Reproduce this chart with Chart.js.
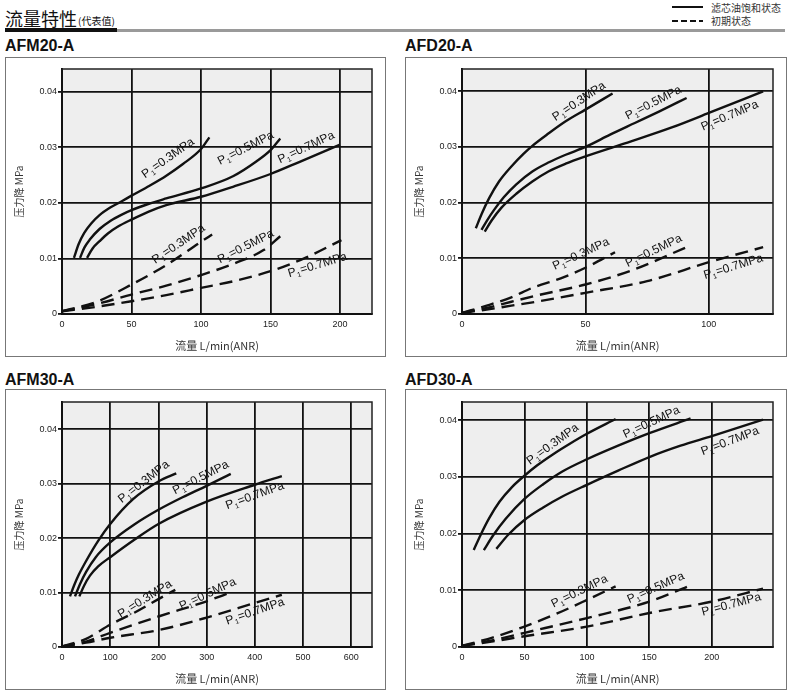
<!DOCTYPE html>
<html>
<head>
<meta charset="utf-8">
<script src="https://cdn.jsdelivr.net/npm/chart.js@4.4.0/dist/chart.umd.min.js"></script>
<style>
  body { margin: 0; background: #fff; width: 790px; height: 699px; position: relative; overflow: hidden;
         font-family: "Liberation Sans", Arial, sans-serif; }
  .abs { position: absolute; }
  .cjk { font-family: "Noto Sans CJK SC", sans-serif; }
  .frame { position: absolute; border: 1.5px solid #777; box-sizing: border-box; pointer-events: none; }
  .title { position: absolute; font-weight: bold; font-size: 16px; line-height: 16px; color: #111; }
  canvas { position: absolute; }
</style>
</head>
<body>

<div class="abs cjk" style="left:5px;top:9px;font-size:18px;line-height:18px;color:#111;">流量特性</div>
<div class="abs cjk" style="left:78px;top:16px;font-size:10px;line-height:10px;color:#111;">(代表值)</div>
<div class="abs" style="left:5px;top:28px;width:112px;height:4px;background:#111;"></div>
<div class="abs" style="left:117px;top:29px;width:668px;height:3px;background:#9a9a9a;"></div>

<div class="abs" style="left:672px;top:6px;width:31px;height:2px;background:#111;"></div>
<div class="abs" style="left:672px;top:20px;width:31px;height:2px;background:repeating-linear-gradient(90deg,#111 0 6px,transparent 6px 9px);"></div>
<div class="abs cjk" style="left:711px;top:2px;font-size:10px;line-height:11px;color:#333;">滤芯油饱和状态</div>
<div class="abs cjk" style="left:711px;top:15px;font-size:10px;line-height:11px;color:#333;">初期状态</div>

<div class="title" style="left:5px;top:38px;">AFM20-A</div>
<div class="title" style="left:405px;top:38px;">AFD20-A</div>
<div class="title" style="left:5px;top:372px;">AFM30-A</div>
<div class="title" style="left:405px;top:372px;">AFD30-A</div>

<canvas id="c1" width="380" height="299" style="left:5px;top:57px;"></canvas>
<canvas id="c2" width="381" height="299" style="left:405px;top:57px;"></canvas>
<canvas id="c3" width="380" height="300" style="left:5px;top:389px;"></canvas>
<canvas id="c4" width="381" height="300" style="left:405px;top:389px;"></canvas>
<div class="frame" style="left:5px;top:57px;width:381px;height:300px;"></div>
<div class="frame" style="left:405px;top:57px;width:382px;height:300px;"></div>
<div class="frame" style="left:5px;top:389px;width:381px;height:301px;"></div>
<div class="frame" style="left:405px;top:389px;width:382px;height:301px;"></div>

<script>
// Pressure drop vs flow, [flow L/min, drop MPa]
const afm20Solid03 = [[8.6,0.0101],[12,0.0126],[16,0.0146],[21,0.0163],[27,0.0178],[35,0.0192],[43,0.0203],[50,0.0213],[63,0.0231],[75,0.0249],[87,0.027],[100,0.0297],[106,0.0318]];
const afm20Solid05 = [[13,0.0101],[16,0.0119],[20,0.0134],[27,0.0153],[35,0.0168],[43,0.0179],[50,0.0187],[62,0.0198],[75,0.0208],[100,0.0226],[123,0.0248],[140,0.0275],[150,0.0295],[157,0.0316]];
const afm20Solid07 = [[18,0.0101],[22,0.0118],[27,0.0131],[33,0.0145],[40,0.0157],[50,0.017],[62,0.0184],[75,0.0196],[100,0.0211],[123,0.0229],[150,0.0252],[171,0.0274],[200,0.0305]];
const afm20Dash03 = [[0,0.0005],[25,0.0022],[50,0.0053],[75,0.0088],[100,0.013],[108,0.0143]];
const afm20Dash05 = [[0,0.0005],[25,0.0018],[50,0.0035],[75,0.0051],[100,0.007],[125,0.0092],[145,0.0115],[157,0.014]];
const afm20Dash07 = [[0,0.0005],[25,0.0013],[50,0.0023],[75,0.0034],[100,0.0047],[125,0.006],[150,0.0077],[175,0.0101],[201,0.0133]];

const afd20Solid03 = [[5.6,0.0154],[8,0.018],[11,0.0208],[15,0.0238],[20,0.0265],[25,0.0288],[28.5,0.0302],[35,0.0324],[42,0.0346],[50,0.0367],[61,0.0396]];
const afd20Solid05 = [[7.9,0.0151],[10,0.0167],[13,0.0187],[17,0.021],[22,0.0233],[28.5,0.0256],[35,0.0272],[42,0.0286],[50,0.03],[60,0.0322],[70,0.0343],[80,0.0364],[91,0.0388]];
const afd20Solid07 = [[9.2,0.0148],[12,0.0168],[16,0.0191],[22,0.0216],[28.5,0.0238],[35,0.0256],[42,0.027],[50,0.0283],[68.5,0.031],[85,0.0335],[100,0.0361],[122,0.04]];
const afd20Dash03 = [[0,0.0002],[10,0.0015],[20,0.003],[28.5,0.0047],[40,0.0064],[50,0.0083],[62,0.0111]];
const afd20Dash05 = [[0,0.0002],[10,0.0011],[20,0.0022],[30,0.0033],[50,0.0053],[68.5,0.0078],[91,0.012]];
const afd20Dash07 = [[0,0.0002],[10,0.0008],[20,0.0015],[30,0.0022],[50,0.0038],[75,0.0059],[100,0.0093],[122,0.012]];

const afm30Solid03 = [[16.6,0.0093],[25,0.0113],[35,0.0133],[50,0.0158],[75,0.0195],[100,0.0226],[148,0.0272],[200,0.0304],[237,0.0319]];
const afm30Solid05 = [[27,0.0093],[37,0.0115],[50,0.0138],[70,0.0165],[100,0.0192],[150,0.0225],[200,0.0252],[250,0.0275],[300,0.0296],[350,0.0318]];
const afm30Solid07 = [[36,0.0093],[46,0.0113],[58,0.0131],[75,0.0148],[100,0.0165],[150,0.0197],[200,0.0226],[300,0.0267],[400,0.0298],[456,0.0314]];
const afm30Dash03 = [[0,0.0001],[50,0.0015],[100,0.0041],[150,0.0063],[200,0.0088],[235,0.0105]];
const afm30Dash05 = [[0,0.0001],[50,0.001],[100,0.0026],[200,0.0056],[300,0.0084],[349,0.01]];
const afm30Dash07 = [[0,0.0001],[50,0.0008],[100,0.0017],[200,0.0031],[300,0.0054],[400,0.0081],[456,0.0096]];

const afd30Solid03 = [[9.4,0.0171],[15,0.0198],[22,0.0228],[30,0.0256],[40,0.0282],[50,0.0302],[60,0.032],[73,0.034],[86,0.0358],[100,0.0376],[123,0.0402]];
const afd30Solid05 = [[17.5,0.0171],[25,0.0197],[35,0.0226],[50,0.0261],[65,0.0287],[80,0.0309],[100,0.0331],[125,0.0355],[150,0.0377],[183,0.0403]];
const afd30Solid07 = [[27.5,0.0173],[37,0.0198],[50,0.0224],[65,0.0246],[80,0.0265],[100,0.0286],[125,0.0311],[150,0.0335],[175,0.0355],[200,0.0372],[241,0.0401]];
const afd30Dash03 = [[0,0.0002],[25,0.0017],[50,0.0036],[75,0.0058],[100,0.0083],[123,0.0107]];
const afd30Dash05 = [[0,0.0002],[25,0.0012],[50,0.0025],[100,0.0051],[150,0.008],[181,0.0107]];
const afd30Dash07 = [[0,0.0002],[25,0.001],[50,0.0019],[100,0.0036],[150,0.006],[200,0.008],[241,0.0103]];

const pressures = ['0.3', '0.5', '0.7'];

// tick labels
const afm20XTicks = [0, 50, 100, 150, 200];
const afd20XTicks = [0, 50, 100];
const afm30XTicks = [0, 100, 200, 300, 400, 500, 600];
const afd30XTicks = [0, 50, 100, 150, 200];
const yTicks = [0, 0.01, 0.02, 0.03, 0.04];

// where the P1 labels sit on each chart: [flow, drop, angle]
const afm20Labels = [[59.7,0.0244,-35],[113.7,0.0268,-27],[156.8,0.0271,-25],[67,0.009,-34],[113.7,0.0091,-27],[163.5,0.0066,-17]];
const afd20Labels = [[37.9,0.0346,-34],[67.2,0.0349,-27],[97.6,0.0329,-23],[37.6,0.0079,-25],[67.2,0.0084,-26],[98.5,0.0063,-17]];
const afm30Labels = [[124,0.0264,-38],[234.6,0.028,-27],[343,0.0253,-20],[122,0.0053,-32],[248,0.0068,-25],[343,0.0041,-19]];
const afd30Labels = [[54.4,0.0321,-36],[130.7,0.0368,-25],[192.7,0.0338,-21],[73.3,0.0069,-26],[134,0.0077,-24],[192.7,0.0055,-15]];

const FONT = '"Liberation Sans", Arial, sans-serif';

const plotBack = {
  id: 'plotBack',
  beforeDraw(chart) {
    const { ctx, chartArea: a } = chart;
    ctx.save();
    ctx.fillStyle = '#eeeeee';
    ctx.fillRect(a.left, a.top, a.right - a.left, a.bottom - a.top);
    ctx.restore();
  },
  beforeDatasetsDraw(chart) {
    const { ctx, chartArea: a } = chart;
    ctx.save();
    ctx.strokeStyle = '#222';
    ctx.lineWidth = 1.5;
    ctx.beginPath();
    ctx.moveTo(a.left, a.top);
    ctx.lineTo(a.right, a.top);
    ctx.lineTo(a.right, a.bottom);
    ctx.stroke();
    ctx.restore();
  }
};

const curveLabels = {
  id: 'curveLabels',
  afterDatasetsDraw(chart, args, opts) {
    const { ctx, scales: { x, y } } = chart;
    opts.items.forEach(([vx, vy, ang], i) => {
      const p = pressures[i % 3];
      ctx.save();
      ctx.fillStyle = '#111';
      ctx.translate(x.getPixelForValue(vx), y.getPixelForValue(vy));
      ctx.rotate(ang * Math.PI / 180);
      ctx.font = '12px ' + FONT;
      ctx.fillText('P', 0, 0);
      let w = ctx.measureText('P').width;
      ctx.font = '7px ' + FONT;
      ctx.fillText('1', w + 0.3, 2.5);
      w += ctx.measureText('1').width + 0.8;
      ctx.font = '12px ' + FONT;
      ctx.fillText('=' + p + 'MPa', w, 0);
      ctx.restore();
    });
  }
};

function toXY(arr) {
  return arr.map(([x, y]) => ({ x, y }));
}

function makeChart(id, series, xTicks, xMax, yMax, labels, topPad) {
  const datasets = series.map((s, i) => ({
    data: toXY(s),
    borderColor: '#111',
    borderWidth: 2.4,
    borderDash: i < 3 ? [] : [13, 7],
    pointRadius: 0,
    cubicInterpolationMode: 'monotone',
    fill: false
  }));

  return new Chart(document.getElementById(id), {
    type: 'line',
    data: { datasets },
    plugins: [plotBack, curveLabels],
    options: {
      responsive: false,
      animation: false,
      events: [],
      layout: { padding: { top: topPad, right: 13, left: 0, bottom: 0 } },
      plugins: {
        legend: { display: false },
        tooltip: { enabled: false },
        curveLabels: { items: labels }
      },
      scales: {
        x: {
          type: 'linear',
          min: 0,
          max: xMax,
          afterBuildTicks: s => { s.ticks = xTicks.map(v => ({ value: v })); },
          afterFit: s => { s.height = 42; },
          grid: { color: '#111', lineWidth: 1.8, drawTicks: false },
          border: { color: '#111', width: 2 },
          ticks: { color: '#222', font: { size: 9, family: FONT }, padding: 5, maxRotation: 0 },
          title: {
            display: true,
            text: '流量 L/min(ANR)',
            color: '#333',
            font: { size: 11, family: '"Noto Sans CJK SC", ' + FONT },
            padding: { top: 0, bottom: 4 }
          }
        },
        y: {
          min: 0,
          max: yMax,
          afterBuildTicks: s => { s.ticks = yTicks.map(v => ({ value: v })); },
          afterFit: s => { s.width = 57; },
          grid: { color: '#111', lineWidth: 1.8, tickLength: 4 },
          border: { color: '#111', width: 2 },
          ticks: {
            color: '#222',
            font: { size: 9, family: FONT },
            padding: 1,
            callback: v => (v === 0 ? '0' : v.toFixed(2))
          },
          title: {
            display: true,
            text: '压力降 MPa',
            color: '#333',
            font: { size: 10, family: '"Noto Sans CJK SC", ' + FONT },
            padding: { top: 8, bottom: 0 }
          }
        }
      }
    }
  });
}

makeChart('c1', [afm20Solid03, afm20Solid05, afm20Solid07, afm20Dash03, afm20Dash05, afm20Dash07],
  afm20XTicks, 223, 0.0441, afm20Labels, 12);
makeChart('c2', [afd20Solid03, afd20Solid05, afd20Solid07, afd20Dash03, afd20Dash05, afd20Dash07],
  afd20XTicks, 126, 0.0440, afd20Labels, 12);
makeChart('c3', [afm30Solid03, afm30Solid05, afm30Solid07, afm30Dash03, afm30Dash05, afm30Dash07],
  afm30XTicks, 643, 0.0450, afm30Labels, 13);
makeChart('c4', [afd30Solid03, afd30Solid05, afd30Solid07, afd30Dash03, afd30Dash05, afd30Dash07],
  afd30XTicks, 249, 0.0432, afd30Labels, 13);
</script>
</body>
</html>
